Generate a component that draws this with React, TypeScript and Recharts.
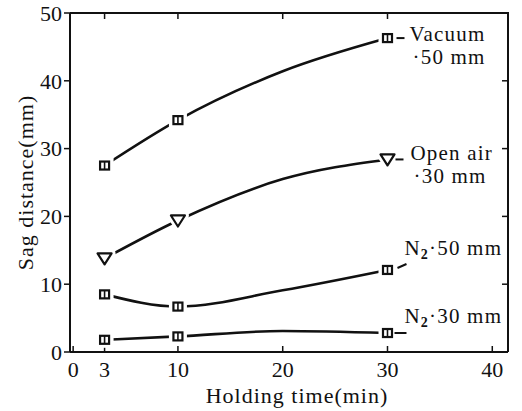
import type { ReactNode } from "react"
import { ComposedChart, Line, Scatter, XAxis, YAxis, Label } from "recharts"

// measured points
const holdingTimes = [3, 10, 30]
const vacuum50 = [27.5, 34.2, 46.3]
const openAir30 = [13.8, 19.4, 28.4]
const n2mm50 = [8.5, 6.7, 12.1]
const n2mm30 = [1.8, 2.3, 2.8]

// hand-fitted curves
const curveTimes = [3, 10, 20, 30]
const vacuum50Curve = [27.5, 34.2, 41.4, 46.3]
const openAir30Curve = [13.8, 19.4, 25.5, 28.4]
const n2mm50Curve = [8.5, 6.7, 9.1, 12.1]
const n2mm30Curve = [1.8, 2.3, 3.1, 2.8]

const xTicks = [0, 3, 10, 20, 30, 40]
const xInnerTicks = [3, 10, 20, 30]
const yTicks = [0, 10, 20, 30, 40, 50]
const yInnerTicks = [10, 20, 30, 40]

const X_DOMAIN: [number, number] = [-0.3, 41.5]
const Y_DOMAIN: [number, number] = [0, 50]

const WIDTH = 522
const HEIGHT = 411
const MARGIN = { top: 13, right: 14, left: 0, bottom: 0 }
const Y_AXIS_W = 70
const X_AXIS_H = 59

const FONT = "'Liberation Serif', 'DejaVu Serif', serif"
const INK = "#111"

const toPoints = (xs: number[], ys: number[]) => xs.map((x, i) => ({ x, y: ys[i] }))
const lastTime = holdingTimes[holdingTimes.length - 1]

function squareMark(cx: number, cy: number) {
  return (
    <g>
      <rect x={cx - 9} y={cy - 8} width={18} height={16} fill="#fff" />
      <rect x={cx - 4.5} y={cy - 4} width={9} height={8} fill="#fff" stroke={INK} strokeWidth={2.2} />
      <line x1={cx} y1={cy - 4} x2={cx} y2={cy + 4} stroke={INK} strokeWidth={1.6} />
    </g>
  )
}

function triangleMark(cx: number, cy: number) {
  const pts = `${cx - 7},${cy - 5} ${cx + 7},${cy - 5} ${cx},${cy + 6}`
  return (
    <g>
      <polygon points={pts} fill="#fff" stroke="#fff" strokeWidth={8} strokeLinejoin="round" />
      <polygon points={pts} fill="#fff" stroke={INK} strokeWidth={2.2} strokeLinejoin="round" />
    </g>
  )
}

const textStyle = { fontFamily: FONT, fontSize: 21, fill: INK, letterSpacing: 1.2 }

const makeShape =
  (kind: "square" | "triangle", tag: (cx: number, cy: number) => ReactNode) =>
  (props: any) => {
    const { cx, cy, payload } = props
    return (
      <g>
        {kind === "square" ? squareMark(cx, cy) : triangleMark(cx, cy)}
        {payload && payload.x === lastTime ? tag(cx, cy) : null}
      </g>
    )
  }

const vacuumShape = makeShape("square", (cx, cy) => (
  <g>
    <line x1={cx + 9} y1={cy} x2={cx + 17} y2={cy} stroke={INK} strokeWidth={2} />
    <text x={cx + 22} y={cy + 3} {...textStyle}>Vacuum</text>
    <text x={cx + 25} y={cy + 26} {...textStyle}>·50 mm</text>
  </g>
))

const openAirShape = makeShape("triangle", (cx, cy) => (
  <g>
    <line x1={cx + 8} y1={cy} x2={cx + 16} y2={cy} stroke={INK} strokeWidth={2} />
    <text x={cx + 23} y={cy + 1} {...textStyle}>Open air</text>
    <text x={cx + 26} y={cy + 24} {...textStyle}>·30 mm</text>
  </g>
))

const n2Label = (rest: string) => (
  <>
    <tspan>N</tspan>
    <tspan fontSize={14} dy={4} fontWeight="bold">2</tspan>
    <tspan dy={-4}>{rest}</tspan>
  </>
)

const n250Shape = makeShape("square", (cx, cy) => (
  <g>
    <line x1={cx + 10} y1={cy - 2} x2={cx + 19} y2={cy - 6} stroke={INK} strokeWidth={2} />
    <text x={cx + 17} y={cy - 15} {...textStyle}>{n2Label("·50 mm")}</text>
  </g>
))

const n230Shape = makeShape("square", (cx, cy) => (
  <g>
    <line x1={cx + 7} y1={cy} x2={cx + 19} y2={cy} stroke={INK} strokeWidth={2} />
    <text x={cx + 17} y={cy - 10} {...textStyle}>{n2Label("·30 mm")}</text>
  </g>
))

const tickStyle = { fontFamily: FONT, fontSize: 22, fill: INK }
const axisLine = { stroke: INK, strokeWidth: 2 }
const tickLine = { stroke: INK, strokeWidth: 1.5 }

// top & right sides of the box with inward ticks, laid over the plot area
function Frame() {
  const left = MARGIN.left + Y_AXIS_W
  const top = MARGIN.top
  const right = WIDTH - MARGIN.right
  const bottom = HEIGHT - MARGIN.bottom - X_AXIS_H
  const sx = (v: number) => left + ((v - X_DOMAIN[0]) / (X_DOMAIN[1] - X_DOMAIN[0])) * (right - left)
  const sy = (v: number) => bottom - ((v - Y_DOMAIN[0]) / (Y_DOMAIN[1] - Y_DOMAIN[0])) * (bottom - top)
  return (
    <svg
      width={WIDTH}
      height={HEIGHT}
      style={{ position: "absolute", left: 0, top: 0, pointerEvents: "none" }}
    >
      <polyline points={`${left},${top} ${right},${top} ${right},${bottom}`} fill="none" stroke={INK} strokeWidth={2} />
      {xInnerTicks.map((t) => (
        <line key={`t${t}`} x1={sx(t)} y1={top} x2={sx(t)} y2={top + 6} stroke={INK} strokeWidth={1.5} />
      ))}
      {yInnerTicks.map((t) => (
        <line key={`r${t}`} x1={right} y1={sy(t)} x2={right - 6} y2={sy(t)} stroke={INK} strokeWidth={1.5} />
      ))}
    </svg>
  )
}

export default function App() {
  return (
    <div style={{ position: "absolute", left: 0, top: 0, width: WIDTH, height: HEIGHT, background: "#fff" }}>
      <ComposedChart width={WIDTH} height={HEIGHT} margin={MARGIN} style={{ fontFamily: FONT }}>
        <XAxis
          dataKey="x"
          type="number"
          domain={X_DOMAIN}
          ticks={xTicks}
          allowDataOverflow
          height={X_AXIS_H}
          axisLine={axisLine}
          tickLine={tickLine}
          tickSize={-6}
          tickMargin={15}
          tick={tickStyle}
          interval={0}
        >
          <Label
            value="Holding time(min)"
            position="insideBottom"
            offset={8}
            dx={8}
            style={{ fontFamily: FONT, fontSize: 22, fill: INK, letterSpacing: 1 }}
          />
        </XAxis>
        <YAxis
          type="number"
          domain={Y_DOMAIN}
          ticks={yTicks}
          allowDataOverflow
          width={Y_AXIS_W}
          axisLine={axisLine}
          tickLine={tickLine}
          tickSize={6}
          tickMargin={2}
          tick={tickStyle}
          interval={0}
        >
          <Label
            value="Sag distance(mm)"
            angle={-90}
            position="insideLeft"
            offset={25}
            style={{ fontFamily: FONT, fontSize: 22, fill: INK, textAnchor: "middle", letterSpacing: 1 }}
          />
        </YAxis>

        <Line data={toPoints(curveTimes, vacuum50Curve)} dataKey="y" type="monotoneX" stroke={INK} strokeWidth={2.6} dot={false} activeDot={false} isAnimationActive={false} />
        <Line data={toPoints(curveTimes, openAir30Curve)} dataKey="y" type="monotoneX" stroke={INK} strokeWidth={2.6} dot={false} activeDot={false} isAnimationActive={false} />
        <Line data={toPoints(curveTimes, n2mm50Curve)} dataKey="y" type="monotoneX" stroke={INK} strokeWidth={2.6} dot={false} activeDot={false} isAnimationActive={false} />
        <Line data={toPoints(curveTimes, n2mm30Curve)} dataKey="y" type="monotoneX" stroke={INK} strokeWidth={2.6} dot={false} activeDot={false} isAnimationActive={false} />

        <Scatter data={toPoints(holdingTimes, vacuum50)} dataKey="y" shape={vacuumShape} isAnimationActive={false} />
        <Scatter data={toPoints(holdingTimes, openAir30)} dataKey="y" shape={openAirShape} isAnimationActive={false} />
        <Scatter data={toPoints(holdingTimes, n2mm50)} dataKey="y" shape={n250Shape} isAnimationActive={false} />
        <Scatter data={toPoints(holdingTimes, n2mm30)} dataKey="y" shape={n230Shape} isAnimationActive={false} />
      </ComposedChart>
      <Frame />
    </div>
  )
}
